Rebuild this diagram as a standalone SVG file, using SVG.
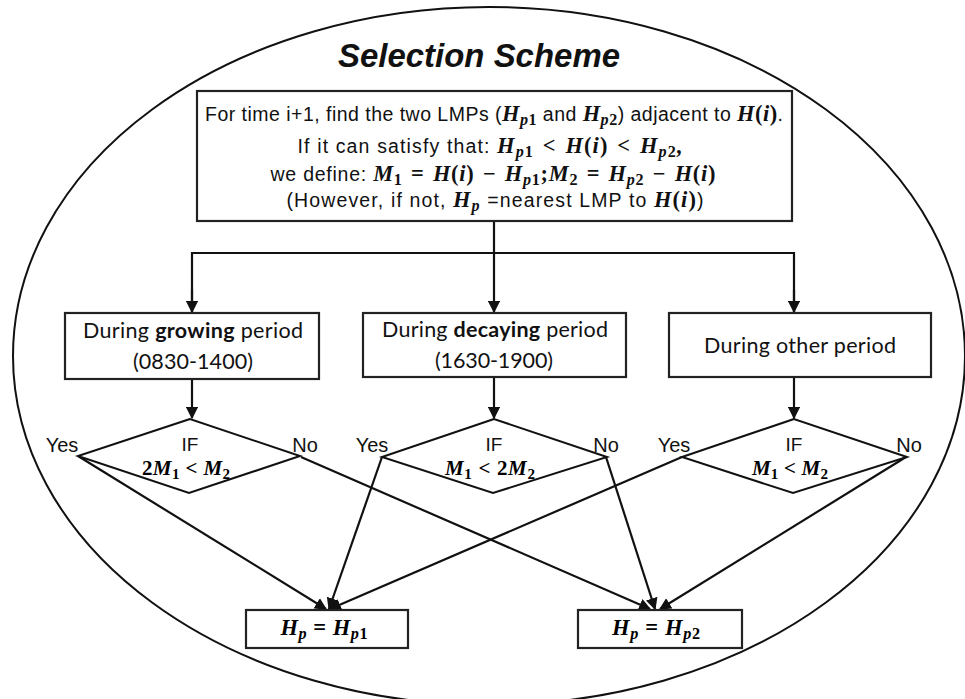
<svg xmlns="http://www.w3.org/2000/svg" width="965" height="699" viewBox="0 0 965 699">
<defs>
<style>
.sans{font-family:"Liberation Sans",Arial,sans-serif;fill:#111}
.cal{font-family:Lato,"Open Sans",sans-serif;fill:#111}
.m{font-family:"Liberation Serif","DejaVu Serif",serif;font-weight:bold;font-style:italic}
.mi{font-size:1.15em;word-spacing:2px}
.u{font-style:normal}
.sub{font-size:72%}
.box{fill:#fff;stroke:#222;stroke-width:2.2}
.dia{fill:none;stroke:#111;stroke-width:2}
.ln{fill:none;stroke:#111;stroke-width:2.2}
.arr{fill:none;stroke:#111;stroke-width:2.2;marker-end:url(#ah)}
</style>
<marker id="ah" viewBox="0 0 10 10" refX="9" refY="5" markerWidth="5.5" markerHeight="5.5" orient="auto" markerUnits="strokeWidth">
<path d="M0,0 L10,5 L0,10 z" fill="#111"/>
</marker>
</defs>
<rect width="965" height="699" fill="#fff"/>
<ellipse id="frame" cx="489" cy="356" rx="476" ry="349" fill="none" stroke="#111" stroke-width="2"/>
<text class="sans" x="479" y="67" font-size="33" font-weight="bold" font-style="italic" text-anchor="middle" textLength="282" lengthAdjust="spacingAndGlyphs">Selection Scheme</text>

<g id="connectors">
<line class="arr" x1="494" y1="221" x2="494" y2="312"/>
<polyline class="ln" points="192,312 192,253 794,253 794,312"/>
<line class="arr" x1="192" y1="290" x2="192" y2="312"/>
<line class="arr" x1="794" y1="290" x2="794" y2="312"/>
<line class="arr" x1="192" y1="379" x2="192" y2="418"/>
<line class="arr" x1="494" y1="377" x2="494" y2="418"/>
<line class="arr" x1="794" y1="377" x2="794" y2="418"/>
<line class="arr" x1="78" y1="456" x2="326" y2="609"/>
<line class="arr" x1="382" y1="457" x2="329" y2="609"/>
<line class="arr" x1="682" y1="457" x2="330" y2="609"/>
<line class="arr" x1="301" y1="457" x2="650" y2="609"/>
<line class="arr" x1="606" y1="457" x2="655" y2="609"/>
<line class="arr" x1="906" y1="457" x2="660" y2="609"/>
</g>

<g id="start">
<rect class="box" x="197" y="91" width="595" height="130"/>
<text class="sans" x="494" y="121" font-size="19.5" text-anchor="middle" textLength="578" lengthAdjust="spacing">For time i+1, find the two LMPs (<tspan class="m mi">H<tspan class="sub" baseline-shift="-3.5">p<tspan class="u">1</tspan></tspan></tspan> and <tspan class="m mi">H<tspan class="sub" baseline-shift="-3.5">p<tspan class="u">2</tspan></tspan></tspan>) adjacent to <tspan class="m mi">H<tspan class="u">(</tspan>i<tspan class="u">)</tspan></tspan>.</text>
<text class="sans" x="490" y="153" font-size="19.5" text-anchor="middle" textLength="385" lengthAdjust="spacing">If it can satisfy that: <tspan class="m mi">H<tspan class="sub" baseline-shift="-3.5">p<tspan class="u">1</tspan></tspan> <tspan class="u">&lt;</tspan> H<tspan class="u">(</tspan>i<tspan class="u">)</tspan> <tspan class="u">&lt;</tspan> H<tspan class="sub" baseline-shift="-3.5">p<tspan class="u">2</tspan></tspan>,</tspan></text>
<text class="sans" x="493" y="181" font-size="19.5" text-anchor="middle" textLength="445" lengthAdjust="spacing">we define: <tspan class="m mi">M<tspan class="sub u" baseline-shift="-3.5">1</tspan> <tspan class="u">=</tspan> H<tspan class="u">(</tspan>i<tspan class="u">)</tspan> <tspan class="u">−</tspan> H<tspan class="sub" baseline-shift="-3.5">p<tspan class="u">1</tspan></tspan><tspan class="u">;</tspan>M<tspan class="sub u" baseline-shift="-3.5">2</tspan> <tspan class="u">=</tspan> H<tspan class="sub" baseline-shift="-3.5">p<tspan class="u">2</tspan></tspan> <tspan class="u">−</tspan> H<tspan class="u">(</tspan>i<tspan class="u">)</tspan></tspan></text>
<text class="sans" x="495" y="207" font-size="19.5" text-anchor="middle" textLength="417" lengthAdjust="spacing">(However, if not, <tspan class="m mi">H<tspan class="sub" baseline-shift="-3.5">p</tspan></tspan> =nearest LMP to <tspan class="m mi">H<tspan class="u">(</tspan>i<tspan class="u">)</tspan></tspan>)</text>
</g>

<g id="growing">
<rect class="box" x="65" y="313" width="254" height="66"/>
<text class="cal" x="193" y="338" font-size="21.5" text-anchor="middle" textLength="220" lengthAdjust="spacing">During <tspan font-weight="bold">growing</tspan> period</text>
<text class="cal" x="193" y="369" font-size="21.5" text-anchor="middle" textLength="120" lengthAdjust="spacing">(0830-1400)</text>
</g>
<g id="decaying">
<rect class="box" x="363" y="313" width="263" height="64"/>
<text class="cal" x="495" y="337" font-size="21.5" text-anchor="middle" textLength="226" lengthAdjust="spacing">During <tspan font-weight="bold">decaying</tspan> period</text>
<text class="cal" x="494" y="368" font-size="21.5" text-anchor="middle" textLength="118" lengthAdjust="spacing">(1630-1900)</text>
</g>
<g id="other">
<rect class="box" x="669" y="313" width="262" height="64"/>
<text class="cal" x="800" y="353" font-size="21.5" text-anchor="middle" textLength="192" lengthAdjust="spacing">During other period</text>
</g>

<g id="if1">
<polygon class="dia" points="190,419 78,456 189,493 300,456"/>
<text class="sans" x="190" y="451" font-size="19" text-anchor="middle">IF</text>
<text class="m" x="186" y="475" font-size="21" text-anchor="middle" textLength="88" lengthAdjust="spacing"><tspan class="u">2</tspan>M<tspan class="sub u" baseline-shift="-4">1</tspan> <tspan class="u">&lt;</tspan> M<tspan class="sub u" baseline-shift="-4">2</tspan></text>
<text class="sans" x="62" y="452" font-size="20" text-anchor="middle">Yes</text>
<text class="sans" x="305" y="452" font-size="20" text-anchor="middle">No</text>
</g>
<g id="if2">
<polygon class="dia" points="494,419 382,457 493,493 607,457"/>
<text class="sans" x="494" y="451" font-size="19" text-anchor="middle">IF</text>
<text class="m" x="490" y="475" font-size="21" text-anchor="middle" textLength="90" lengthAdjust="spacing">M<tspan class="sub u" baseline-shift="-4">1</tspan> <tspan class="u">&lt; 2</tspan>M<tspan class="sub u" baseline-shift="-4">2</tspan></text>
<text class="sans" x="372" y="452" font-size="20" text-anchor="middle">Yes</text>
<text class="sans" x="606" y="452" font-size="20" text-anchor="middle">No</text>
</g>
<g id="if3">
<polygon class="dia" points="794,419 682,457 793,493 907,457"/>
<text class="sans" x="794" y="451" font-size="19" text-anchor="middle">IF</text>
<text class="m" x="790" y="475" font-size="21" text-anchor="middle" textLength="76" lengthAdjust="spacing">M<tspan class="sub u" baseline-shift="-4">1</tspan> <tspan class="u">&lt;</tspan> M<tspan class="sub u" baseline-shift="-4">2</tspan></text>
<text class="sans" x="674" y="452" font-size="20" text-anchor="middle">Yes</text>
<text class="sans" x="909" y="452" font-size="20" text-anchor="middle">No</text>
</g>

<g id="hp1">
<rect class="box" x="246" y="610" width="162" height="38"/>
<text class="m" x="324" y="635" font-size="22.5" text-anchor="middle" textLength="87" lengthAdjust="spacing">H<tspan class="sub" baseline-shift="-4">p</tspan> <tspan class="u">=</tspan> H<tspan class="sub" baseline-shift="-4">p<tspan class="u">1</tspan></tspan></text>
</g>
<g id="hp2">
<rect class="box" x="578" y="610" width="164" height="38"/>
<text class="m" x="656" y="635" font-size="22.5" text-anchor="middle" textLength="88" lengthAdjust="spacing">H<tspan class="sub" baseline-shift="-4">p</tspan> <tspan class="u">=</tspan> H<tspan class="sub" baseline-shift="-4">p<tspan class="u">2</tspan></tspan></text>
</g>
</svg>
